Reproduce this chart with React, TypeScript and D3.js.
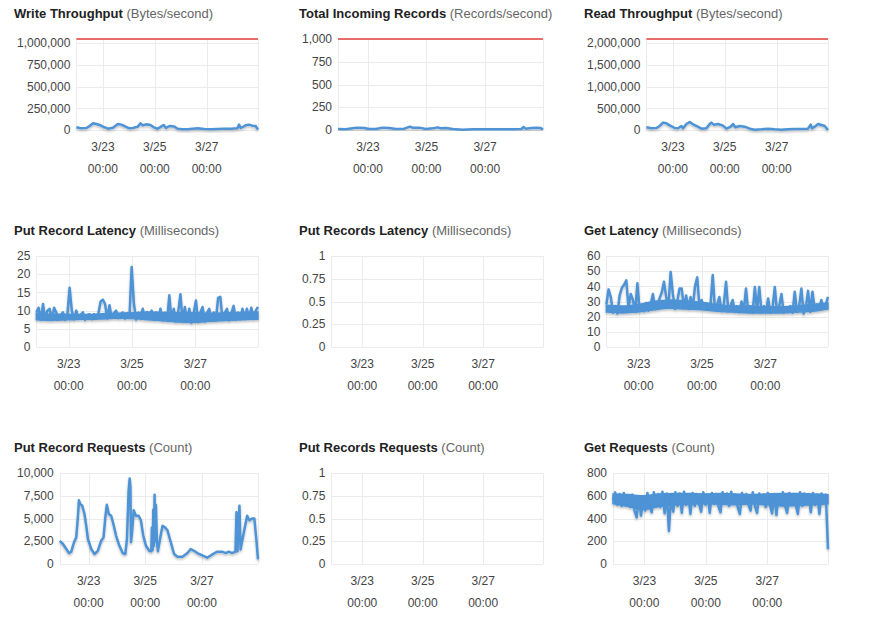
import React, { useEffect, useRef } from 'react';
import * as d3 from 'd3';

// one week window
const START = new Date(2017, 2, 21, 23, 30);
const END = new Date(2017, 2, 28, 23, 30);
const WEEK_HOURS = 168;
const tickDates = [new Date(2017, 2, 23), new Date(2017, 2, 25), new Date(2017, 2, 27)];

// [hours since start, value]
const writeThroughput: [number, number][] = [
  [0, 31000], [4.6, 19000], [9.2, 23000], [12.3, 46000], [15.4, 77000], [18.4, 69000], [21.5, 58000],
  [24.6, 39000], [29.2, 15000], [33.8, 27000], [38.4, 69000], [41.5, 62000], [44.5, 46000], [49.1, 19000],
  [52.2, 23000], [56.8, 39000], [59.3, 77000], [61.4, 54000], [64.5, 65000], [68.5, 58000], [71.6, 31000],
  [75.2, 15000], [78.3, 39000], [80.8, 58000], [82.9, 23000], [86, 46000], [90.6, 39000], [93.7, 15000],
  [98.3, 8000], [102.9, 8000], [107.5, 15000], [112.1, 19000], [118.2, 12000], [124.4, 8000], [130.5, 12000],
  [136.7, 15000], [142.8, 15000], [148.9, 19000], [150.5, 62000], [152, 23000], [156.6, 54000], [159.7, 62000],
  [162.8, 50000], [165.8, 46000], [168, 4000],
];

const totalIncomingRecords: [number, number][] = [
  [0, 11], [6.3, 8], [11.8, 18], [15.9, 26], [21.4, 22], [25.5, 11], [31, 11], [36.4, 26], [41.9, 22],
  [47.4, 11], [54.3, 15], [58.9, 37], [61.1, 26], [66.6, 26], [72.1, 11], [77.5, 18], [81.7, 29], [84.4, 18],
  [88.5, 22], [94, 11], [102.2, 4], [110.4, 7], [121.4, 7], [132.3, 7], [143.3, 7], [150.2, 11], [152.1, 33],
  [153.7, 15], [158.4, 22], [162.5, 26], [165.8, 22], [168, 8],
];

const readThroughput: [number, number][] = [
  [0, 62000], [4.6, 39000], [9.2, 46000], [12.3, 93000], [15.4, 170000], [18.5, 154000], [21.6, 108000],
  [26.2, 46000], [29.3, 39000], [32.4, 93000], [33.9, 39000], [37, 139000], [40.1, 185000], [43.2, 131000],
  [46.2, 93000], [50.9, 31000], [55.5, 39000], [58.6, 139000], [60.1, 170000], [62.6, 123000], [66.3, 139000],
  [70.9, 100000], [74, 31000], [78, 77000], [80.2, 139000], [82.3, 62000], [86.3, 93000], [90.9, 77000],
  [95.6, 31000], [100.2, 8000], [106.4, 15000], [112.5, 31000], [118.7, 15000], [124.9, 8000], [131, 15000],
  [137.2, 23000], [143.4, 23000], [149.5, 31000], [152, 123000], [153.2, 39000], [155.7, 77000],
  [158.8, 139000], [161.9, 116000], [165, 93000], [168, 0],
];

const putRecordRequests: [number, number][] = [
  [0, 2550], [2.8, 2200], [5.6, 1650], [7.9, 1200], [9.8, 1350], [11.2, 2000], [12.6, 2550], [14, 2900],
  [15.5, 5300], [16.3, 7000], [17.4, 6600], [19.1, 6400], [21, 5500], [22.5, 4200], [23.9, 2750], [26.7, 1650],
  [29.5, 1100], [32.3, 1450], [35.1, 2550], [37.1, 2900], [38.8, 5300], [39.9, 6500], [41.6, 5500], [43.6, 5300],
  [45.5, 4400], [47.8, 3100], [50.6, 2000], [53.4, 1200], [55.6, 1100], [57, 2750], [58.4, 8100], [59.3, 9400],
  [59.9, 8500], [60.4, 2400], [61.3, 3500], [62.7, 5900], [64.6, 5300], [66.9, 5300], [68.8, 4800], [70.8, 3100],
  [73.1, 2000], [75.9, 1450], [77.6, 1400], [78.1, 4000], [78.7, 1500], [79.3, 6000], [79.8, 2000], [80.4, 7600],
  [80.9, 2500], [81.5, 6500], [82.3, 2600], [83.2, 1400], [84.9, 2700], [87.1, 4200], [89.4, 4000], [91.3, 3700],
  [94.1, 2400], [96.9, 1100], [99.8, 800], [104, 800], [108.2, 1200], [111, 1650], [113.8, 1450], [116.6, 1200],
  [120.8, 950], [125, 700], [129.3, 1050], [133.5, 1350], [137.7, 1350], [140.5, 1200], [143.3, 1350],
  [146.1, 1200], [148.9, 1350], [149.8, 5700], [150.6, 1400], [151.7, 5000], [152.3, 6400], [153.2, 1600],
  [156, 3500], [158.8, 5300], [160.7, 4800], [163, 5000], [164.9, 5000], [166.6, 2700], [168, 500],
];

// evenly spaced samples across the week (noisy series)
const putRecordLatency = [
  9.5, 10.8, 7.4, 11.8, 7.6, 10.0, 10.5, 7.5, 10.8, 9.5, 7.6, 8.8, 9.5, 7.4, 8.9, 16.3, 10, 7.6, 10, 7.8,
  8.9, 9.5, 7.4, 8.8, 9, 7.6, 9.0, 7.7, 9.2, 12.5, 13, 11.8, 7.8, 11.5, 8.0, 9.3, 10, 7.9, 9.0, 9.5,
  7.8, 9.2, 8.0, 22, 12, 7.5, 9.4, 8.0, 10.5, 7.7, 9.6, 8.1, 10, 7.6, 9.5, 7.5, 10.5, 7.3, 9.4, 7.4,
  14.2, 7.2, 10.5, 7.0, 9.6, 14.5, 6.9, 11, 7.1, 10.5, 6.6, 9.3, 12.8, 6.8, 9.5, 11, 7.0, 9.4, 10.5, 7.2,
  9.5, 7.3, 13.5, 13.8, 7.4, 9.4, 10.5, 7.3, 9.3, 11.3, 7.5, 9.5, 7.6, 10.5, 7.7, 10.5, 7.8, 10.8, 7.7, 10,
  11,
];
// lower / upper edge of the dense band, every 12 hours
const putRecordLatencyLow = [7.5, 7.3, 7.5, 7.6, 7.7, 7.9, 7.8, 7.5, 7.2, 6.9, 6.8, 7.1, 7.3, 7.5, 7.6];
const putRecordLatencyHigh = [9.3, 9.0, 9.0, 8.9, 9.1, 9.3, 9.4, 9.6, 9.5, 9.4, 9.4, 9.3, 9.4, 9.5, 9.6];

const getLatency = [
  28, 38, 33, 22.5, 27, 22, 34, 39, 41, 44, 26, 35, 31, 23, 42, 24, 27, 23.5, 29, 24,
  28, 35, 25, 28, 32, 36, 43, 33, 26, 49.5, 35, 25, 30, 38.5, 38.5, 26, 34, 25, 33, 26,
  40, 46, 26.5, 31, 26, 29, 25, 28, 47.5, 24.5, 28, 33, 23.5, 28, 43, 24, 27, 31, 23, 27,
  23, 30, 24, 38.5, 23, 27, 22.5, 39.5, 24, 39.5, 22.5, 27, 23, 32, 22.5, 26, 39.5, 23, 27, 35,
  22.5, 26, 23, 27, 22.5, 36.5, 23, 27, 38.5, 22, 26, 37, 23, 36.5, 25, 28, 25, 31, 26, 28,
  33,
];
const getLatencyLow = [23, 22.5, 23, 24.5, 25.5, 25, 24.5, 23.5, 23, 22.5, 22.5, 22.5, 23, 23.5, 25];
const getLatencyHigh = [27.5, 27, 28, 30, 31, 30.5, 29.5, 28, 27, 27, 26.5, 26.5, 27, 28, 29];

const getRequests = [
  560, 630, 520, 615, 510, 625, 540, 600, 500, 610, 470, 410, 590, 425, 560, 470, 625, 510, 455, 630,
  520, 615, 500, 635, 445, 620, 290, 600, 460, 630, 510, 620, 450, 635, 520, 600, 440, 625, 510, 615,
  530, 460, 630, 520, 610, 450, 625, 530, 615, 510, 455, 630, 530, 620, 510, 635, 540, 610, 500, 440,
  625, 530, 615, 520, 470, 630, 510, 450, 620, 530, 610, 500, 625, 520, 445, 615, 430, 600, 520, 630,
  510, 450, 625, 530, 615, 520, 440, 630, 510, 620, 530, 615, 455, 625, 520, 610, 440, 620, 540, 610,
  130,
];
const getRequestsLow = [530, 505, 480, 505, 520, 525, 530, 525, 520, 530, 520, 510, 515, 520, 530];
const getRequestsHigh = [615, 610, 600, 615, 620, 620, 615, 620, 615, 610, 615, 620, 620, 615, 610];

const bytesTicks = [0, 250000, 500000, 750000, 1000000];
const readTicks = [0, 500000, 1000000, 1500000, 2000000];
const recordsTicks = [0, 250, 500, 750, 1000];
const unitTicks = [0, 0.25, 0.5, 0.75, 1];
const putLatencyTicks = [0, 5, 10, 15, 20, 25];
const getLatencyTicks = [0, 10, 20, 30, 40, 50, 60];
const putRequestTicks = [0, 2500, 5000, 7500, 10000];
const getRequestTicks = [0, 200, 400, 600, 800];

const evenly = (vals: number[]): [number, number][] =>
  vals.map((v, i) => [(i * WEEK_HOURS) / (vals.length - 1), v]);

const bandOf = (low: number[], high: number[]): [number, number, number][] =>
  low.map((v, i) => [(i * WEEK_HOURS) / (low.length - 1), v, high[i]]);

interface Panel {
  title: string;
  unit: string;
  ticks: number[];
  yMax: number;
  limit?: number;
  data?: [number, number][];
  band?: [number, number, number][];
}

const panels: Panel[] = [
  { title: 'Write Throughput', unit: '(Bytes/second)', ticks: bytesTicks, yMax: 1048576, limit: 1048576, data: writeThroughput },
  { title: 'Total Incoming Records', unit: '(Records/second)', ticks: recordsTicks, yMax: 1000, limit: 1000, data: totalIncomingRecords },
  { title: 'Read Throughput', unit: '(Bytes/second)', ticks: readTicks, yMax: 2097152, limit: 2097152, data: readThroughput },
  { title: 'Put Record Latency', unit: '(Milliseconds)', ticks: putLatencyTicks, yMax: 25, data: evenly(putRecordLatency), band: bandOf(putRecordLatencyLow, putRecordLatencyHigh) },
  { title: 'Put Records Latency', unit: '(Milliseconds)', ticks: unitTicks, yMax: 1 },
  { title: 'Get Latency', unit: '(Milliseconds)', ticks: getLatencyTicks, yMax: 60, data: evenly(getLatency), band: bandOf(getLatencyLow, getLatencyHigh) },
  { title: 'Put Record Requests', unit: '(Count)', ticks: putRequestTicks, yMax: 10000, data: putRecordRequests },
  { title: 'Put Records Requests', unit: '(Count)', ticks: unitTicks, yMax: 1 },
  { title: 'Get Requests', unit: '(Count)', ticks: getRequestTicks, yMax: 800, data: evenly(getRequests), band: bandOf(getRequestsLow, getRequestsHigh) },
];

const colX = [14, 299, 584];
const rowTop = [39, 256, 473];
const PLOT_H = 91;
const PANEL_W = 244;
const BLUE = '#4d93d5';
const FONT = '"Liberation Sans", Arial, Helvetica, sans-serif';

const App: React.FC = () => {
  const svgRef = useRef<SVGSVGElement>(null);

  useEffect(() => {
    const svg = d3.select(svgRef.current);
    svg.selectAll('*').remove();

    const filter = svg.append('defs').append('filter')
      .attr('id', 'lineShadow')
      .attr('x', '-5%').attr('y', '-40%')
      .attr('width', '110%').attr('height', '180%');
    filter.append('feDropShadow')
      .attr('dx', 0).attr('dy', 1.5)
      .attr('stdDeviation', 1.1)
      .attr('flood-color', '#000')
      .attr('flood-opacity', 0.28);

    const fmt = d3.format(',');
    const hourToDate = (h: number) => new Date(START.getTime() + h * 3600 * 1000);

    panels.forEach((p, i) => {
      const x0 = colX[i % 3];
      const top = rowTop[Math.floor(i / 3)];
      const bottom = top + PLOT_H;
      const right = x0 + PANEL_W;
      const g = svg.append('g').style('font-family', FONT);

      // title
      const title = g.append('text')
        .attr('x', x0)
        .attr('y', top - 21.5)
        .style('font-size', '13px');
      title.append('tspan').attr('font-weight', 'bold').attr('fill', '#222').text(p.title);
      title.append('tspan').attr('fill', '#666').text(' ' + p.unit);

      // y labels first so we can measure them
      const yLabels = g.append('g').selectAll('text')
        .data(p.ticks)
        .enter()
        .append('text')
        .style('font-size', '12px')
        .attr('fill', '#444')
        .attr('text-anchor', 'end')
        .attr('dy', '0.35em')
        .text(d => fmt(d));

      let maxW = 0;
      yLabels.each(function () {
        maxW = Math.max(maxW, (this as SVGTextElement).getComputedTextLength());
      });
      const left = x0 + 3 + maxW + 6;

      const x = d3.scaleTime().domain([START, END]).range([left, right]);
      const y = d3.scaleLinear().domain([0, p.yMax]).range([bottom, top]);

      yLabels.attr('x', left - 6).attr('y', d => y(d));

      // grid
      const grid = g.append('g').attr('stroke', '#ebebeb').attr('stroke-width', 1).attr('fill', 'none');
      grid.selectAll('.hg')
        .data(Array.from(new Set([...p.ticks, p.yMax])))
        .enter()
        .append('line')
        .attr('x1', left).attr('x2', right)
        .attr('y1', d => Math.round(y(d)) + 0.5)
        .attr('y2', d => Math.round(y(d)) + 0.5);
      grid.selectAll('.vg')
        .data([START, ...tickDates, END])
        .enter()
        .append('line')
        .attr('x1', d => Math.round(x(d)) + 0.5)
        .attr('x2', d => Math.round(x(d)) + 0.5)
        .attr('y1', top).attr('y2', bottom);

      // x labels
      const xl = g.append('g').selectAll('g')
        .data(tickDates)
        .enter()
        .append('g')
        .attr('transform', d => `translate(${x(d)},0)`);
      xl.append('text')
        .attr('y', bottom + 21)
        .attr('text-anchor', 'middle')
        .style('font-size', '12px')
        .attr('fill', '#444')
        .text(d => d3.timeFormat('%-m/%d')(d));
      xl.append('text')
        .attr('y', bottom + 43)
        .attr('text-anchor', 'middle')
        .style('font-size', '12px')
        .attr('fill', '#444')
        .text(d => d3.timeFormat('%H:%M')(d));

      // limit line
      if (p.limit !== undefined) {
        g.append('line')
          .attr('x1', left).attr('x2', right)
          .attr('y1', y(p.limit)).attr('y2', y(p.limit))
          .attr('stroke', '#e5413a')
          .attr('stroke-width', 1.5);
      }

      const series = g.append('g').attr('filter', 'url(#lineShadow)');

      // dense band of the high-frequency series
      if (p.band) {
        const area = d3.area<[number, number, number]>()
          .x(d => x(hourToDate(d[0])))
          .y0(d => y(d[1]))
          .y1(d => y(d[2]))
          .curve(d3.curveMonotoneX);
        series.append('path')
          .datum(p.band)
          .attr('d', area)
          .attr('fill', BLUE)
          .attr('stroke', BLUE)
          .attr('stroke-width', 1.5);
      }

      // series
      if (p.data) {
        const line = d3.line<[number, number]>()
          .x(d => x(hourToDate(d[0])))
          .y(d => y(d[1]));
        series.append('path')
          .datum(p.data)
          .attr('d', line)
          .attr('fill', 'none')
          .attr('stroke', BLUE)
          .attr('stroke-width', 2.5)
          .attr('stroke-linejoin', 'round');
      }
    });
  }, []);

  return (
    <svg
      ref={svgRef}
      width={875}
      height={639}
      style={{ position: 'absolute', left: 0, top: 0, background: '#fff' }}
    />
  );
};

export default App;
